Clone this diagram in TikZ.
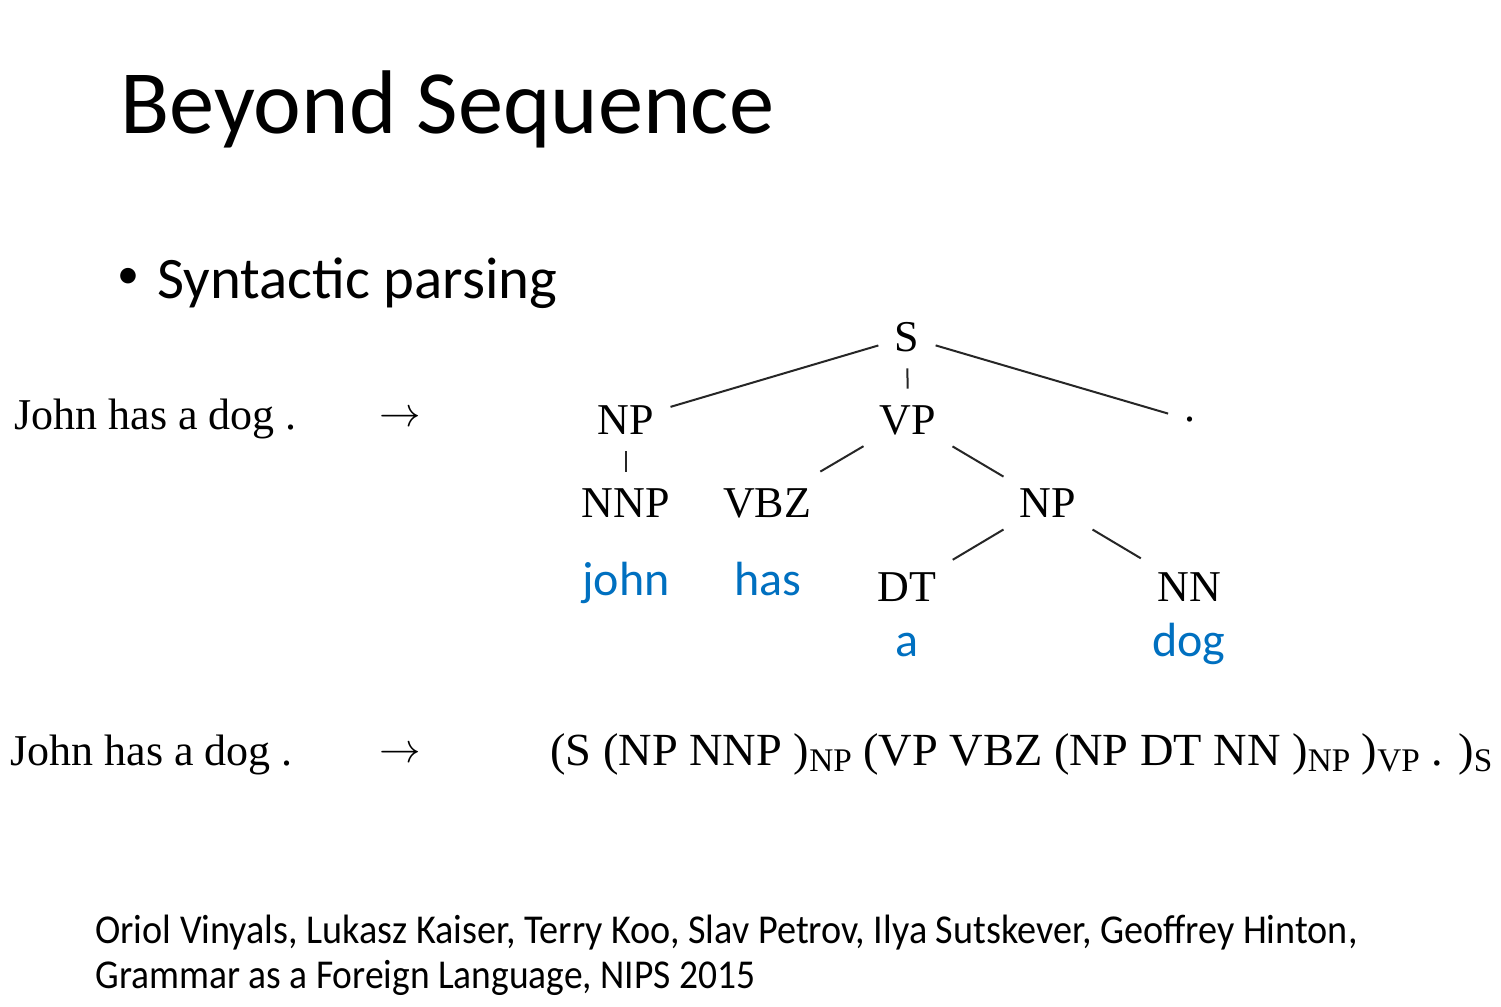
\documentclass[tikz,border=0pt]{standalone}
\usepackage{fontspec}
\usepackage{graphicx}
\setmainfont{Carlito}
\newfontfamily\tnr{Liberation Serif}
\definecolor{wordblue}{HTML}{0070C0}
\newcommand\sbs[1]{\raisebox{-3pt}{\fontsize{16.5}{18}\selectfont #1}}
\begin{document}
\begin{tikzpicture}[x=0.5pt,y=-0.5pt,
  txt/.style={inner sep=0pt, anchor=base west},
  tag/.style={font=\tnr\fontsize{22}{25}\selectfont, text height=14.5pt, text depth=0pt, inner xsep=8pt, inner ysep=8.25pt},
  word/.style={font=\fontsize{24}{28}\selectfont, text=wordblue, inner sep=0pt, anchor=base},
  serifline/.style={font=\tnr\fontsize{22}{26}\selectfont, inner sep=0pt, anchor=base west},
  arr/.style={font=\fontsize{22}{26}\selectfont, inner sep=0pt, anchor=base},
  cite/.style={font=\fontsize{20.5}{23}\selectfont, inner sep=0pt, anchor=base west},
  edge/.style={line width=1pt, draw=black!85}]
\fill[white] (0,0) rectangle (1501,1007);
\useasboundingbox (0,0) rectangle (1501,1007);
% title and bullet
\node[txt, font=\fontsize{45.2}{50}\selectfont] (title) at (120,133) {Beyond Sequence};
\node[inner sep=0pt, font=\fontsize{22}{26}\selectfont] (bullet) at (128,278) {•};
\node[txt, font=\fontsize{29.4}{32}\selectfont] (bul) at (157,298) {Syntactic parsing};
% top row
\node[serifline] (in1) at (14,429) {John has a dog .};
\node[arr] (ar1) at (400,426) {$\rightarrow$};
% tree
\node[tag] (S) at (907,337) {S};
\node[tag] (NPa) at (626,420) {NP};
\node[tag] (VP) at (908,420) {VP};
\node[tag] (dot) at (1190,420) {\raisebox{6.5pt}{.}};
\node[tag] (NNP) at (626,503) {NNP};
\node[tag] (VBZ) at (767,503) {VBZ};
\node[tag] (NPb) at (1048,503) {NP};
\node[tag] (DT) at (907,587) {DT};
\node[tag] (NN) at (1189,587) {NN};
\draw[edge] (S) -- (NPa);
\draw[edge] (S) -- (VP);
\draw[edge] (S) -- (dot);
\draw[edge] (NPa) -- (NNP);
\draw[edge] (VP) -- (VBZ);
\draw[edge] (VP) -- (NPb);
\draw[edge] (NPb) -- (DT);
\draw[edge] (NPb) -- (NN);
\node[word] (john) at (626,595) {john};
\node[word] (has) at (768,595) {has};
\node[word] (a) at (907,656) {a};
\node[word] (dog) at (1189,656) {dog};
% bottom row
\node[serifline] (in2) at (10,765) {John has a dog .};
\node[arr] (ar2) at (400,762) {$\rightarrow$};
\node[serifline, font=\tnr\fontsize{23}{26}\selectfont] (seq) at (550,765) {\resizebox{471pt}{\height}{(S (NP NNP )\sbs{NP} (VP VBZ (NP DT NN )\sbs{NP} )\sbs{VP} . )\sbs{S}}};
% citation
\node[cite] (cite1) at (95,943) {\resizebox{631pt}{\height}{Oriol Vinyals, Lukasz Kaiser, Terry Koo, Slav Petrov, Ilya Sutskever, Geoffrey Hinton,}};
\node[cite] (cite2) at (95,988) {\resizebox{330pt}{\height}{Grammar as a Foreign Language, NIPS 2015}};
\end{tikzpicture}
\end{document}
